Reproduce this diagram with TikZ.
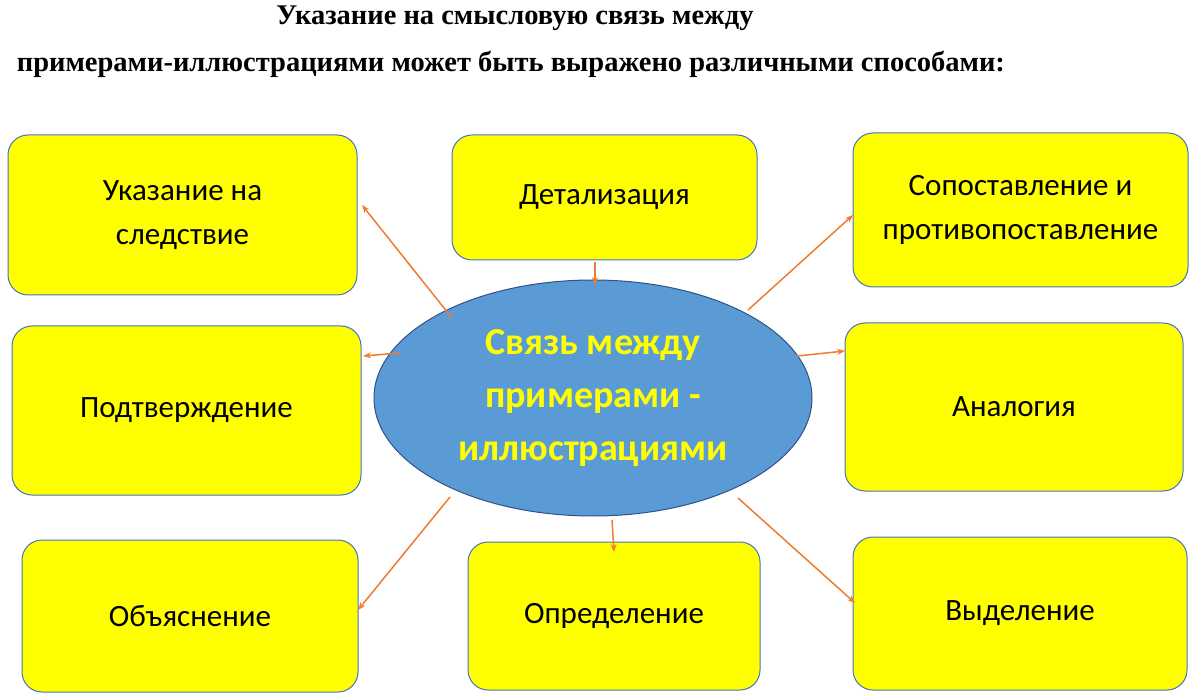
\documentclass[tikz,border=0pt]{standalone}
\usepackage{fontspec}
\setmainfont{Carlito}
\newfontfamily\titlefont{Liberation Serif}
\usetikzlibrary{arrows.meta,shapes.geometric}
\definecolor{boxy}{HTML}{FFFF00}
\definecolor{boxb}{HTML}{4472C4}
\definecolor{ellb}{HTML}{5B9BD5}
\definecolor{arr}{HTML}{ED7D31}
\begin{document}
\begin{tikzpicture}[x=1pt,y=-1pt,
  ybox/.style={draw=boxb,line width=1pt,fill=boxy,rounded corners=20pt,align=center,font=\fontsize{31}{44}\selectfont},
  link/.style={draw=arr,line width=1.5pt,-{Stealth[length=8pt,width=6pt]}}]
\useasboundingbox[fill=white] (0,0) rectangle (1200,700);
\node[font=\titlefont\bfseries\fontsize{28.5}{32}\selectfont] (t1) at (515,18) {Указание на смысловую связь между};
\node[font=\titlefont\bfseries\fontsize{28.5}{32}\selectfont] (t2) at (511,64) {примерами-иллюстрациями может быть выражено различными способами:};
\newcommand\ybx[6]{\node[ybox,minimum width=#3-#1,minimum height=#4-#2] (#5) at ({(#1+#3)/2},{(#2+#4)/2}) {#6};}
\ybx{8}{135}{357}{295}{b1}{Указание на\\следствие}
\ybx{452}{135}{757}{260}{b2}{Детализация}
\ybx{853}{133}{1188}{287}{b3}{Сопоставление и\\противопоставление}
\ybx{12}{326}{361}{495}{b4}{Подтверждение}
\ybx{845}{323}{1183}{491}{b5}{Аналогия}
\ybx{22}{540}{358}{692}{b6}{Объяснение}
\ybx{468}{542}{760}{690}{b7}{Определение}
\ybx{853}{537}{1187}{690}{b8}{Выделение}
\node[ellipse,draw=boxb!70!black,line width=1pt,fill=ellb,minimum width=438,minimum height=236,inner sep=0pt,align=center,text=boxy,font=\bfseries\fontsize{38}{53}\selectfont] (e) at (593,398) {Связь между\\примерами -\\иллюстрациями};
\coordinate (a1) at (452,318); \coordinate (a3) at (748,310);
\coordinate (a4) at (400,353); \coordinate (a5) at (797,356);
\coordinate (a6) at (450,497); \coordinate (a7) at (612,520);
\coordinate (a8) at (738,498); \coordinate (a2) at (595,262);
\coordinate (a2e) at (595,285);
\draw[link] (a1) -- (362,205);
\draw[link] (a2) -- (a2e);
\draw[link] (a3) -- (853,215);
\draw[link] (a4) -- (363,356);
\draw[link] (a5) -- (845,351);
\draw[link] (a6) -- (358,610);
\draw[link] (a7) -- (614,552);
\draw[link] (a8) -- (855,603);
\end{tikzpicture}
\end{document}
